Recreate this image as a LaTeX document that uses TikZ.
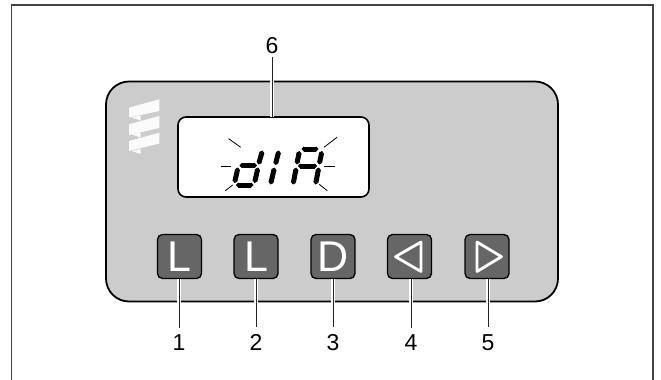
\documentclass[tikz,border=0pt]{standalone}
\usepackage{fontspec}
\setmainfont{Liberation Sans}
\usetikzlibrary{arrows.meta}
\definecolor{panelgray}{HTML}{CCCCCC}
\definecolor{btngray}{HTML}{666666}
\definecolor{framegray}{HTML}{444444}
\tikzset{
  x=1pt,y=-1pt,
  frameline/.style={draw=framegray,line width=1.5pt},
  panel/.style={draw=black,fill=panelgray,line width=1.8pt,rounded corners=23pt,minimum width=452pt,minimum height=220pt,outer sep=0pt,inner sep=0pt},
  lcd/.style={draw=black,fill=white,line width=1.6pt,rounded corners=8pt,minimum width=191pt,minimum height=80pt,outer sep=0pt,inner sep=0pt},
  btn/.style={draw=black,fill=btngray,line width=1.3pt,rounded corners=5pt,minimum width=44pt,minimum height=44pt,outer sep=0pt,inner sep=0pt,text=white,font=\fontsize{43}{43}\selectfont},
  tag/.style={font=\fontsize{23}{23}\selectfont,inner xsep=0pt,outer sep=0pt,text=black},
  btntag/.style={tag,inner ysep=7pt},
  toptag/.style={tag,inner ysep=3pt},
  leader/.style={draw=black!85,line width=1pt,preaction={draw=white,line width=3.4pt}},
  ray/.style={draw=black,line width=.8pt},
  arrowmark/.style={draw=white,line width=2.8pt,line join=round},
  logo/.style={fill=white!92!panelgray,draw=none},
  seg/.style={draw=black,line width=5pt,{Triangle[length=2.3pt,width=5pt]}-{Triangle[length=2.3pt,width=5pt]}}
}
\begin{document}
\begin{tikzpicture}
\useasboundingbox (0,0) rectangle (661,380);
\fill[white] (0,0) rectangle (661,380);
\coordinate (fbl) at (11.5,380);
\coordinate (ftl) at (11.5,5);
\coordinate (ftr) at (653,5);
\coordinate (fbr) at (653,380);
\draw[frameline] (fbl) -- (ftl) -- (ftr) -- (fbr);
\node[panel] (panel) at (332,191.5) {};
% logo
\fill[logo] (129,107.7) -- (159.3,99.3) -- (159.3,111) -- (129,117.5) -- cycle;
\fill[logo] (129,124.3) -- (159.3,116) -- (159.3,128) -- (129,135) -- cycle;
\fill[logo] (129,141) -- (159.3,132.7) -- (159.3,143.5) -- (129,151) -- cycle;
\fill[logo] (131.7,117.5) -- (140.7,115.5) -- (140.7,120.5) -- cycle;
\fill[logo] (131.7,134.5) -- (140.7,132.5) -- (140.7,137.5) -- cycle;
\fill[logo] (131.7,151) -- (140.7,149) -- (140.7,154) -- cycle;
% tags
\node[toptag] (t6) at (272,45.5) {6};
\node[btntag] (t1) at (179,342.5) {1};
\node[btntag] (t2) at (256,342.5) {2};
\node[btntag] (t3) at (333,342.5) {3};
\node[btntag] (t4) at (411,342.5) {4};
\node[btntag] (t5) at (488,342.5) {5};
% display
\node[lcd] (lcd) at (273.5,157) {};
\draw[leader] (t6.south) -- (t6.south |- lcd.north);
% buttons
\node[btn] (b1) at (179.5,256.5) {L};
\node[btn] (b2) at (256,256.5) {L};
\node[btn] (b3) at (333,256.5) {D};
\node[btn] (b4) at (409.5,256.5) {};
\node[btn] (b5) at (487,256.5) {};
\draw[leader] (t1.north |- b1.south) -- (t1.north);
\draw[leader] (t2.north |- b2.south) -- (t2.north);
\draw[leader] (t3.north |- b3.south) -- (t3.north);
\draw[leader] (t4.north |- b4.south) -- (t4.north);
\draw[leader] (t5.north |- b5.south) -- (t5.north);
\draw[arrowmark] (395.5,256.7) -- (421,242) -- (421,271.5) -- cycle;
\draw[arrowmark] (477,242) -- (477,271.5) -- (501.5,256.7) -- cycle;
% rays
\draw[ray] (228.7,138.7) -- (240.7,147.3);
\draw[ray] (220.7,166) -- (230.7,166);
\draw[ray] (225.3,190.7) -- (232.7,185);
\draw[ray] (324,147.3) -- (337,137.3);
\draw[ray] (324,166) -- (334.7,166);
\draw[ray] (319.3,184.3) -- (327.3,190.7);
% d
\draw[seg] (239.5,165.5) -- (257,165.5);
\draw[seg] (238,167.5) -- (234.5,183);
\draw[seg] (236,185) -- (253.5,185);
\draw[seg] (258,167.5) -- (254.5,183);
\draw[seg] (262.5,150.5) -- (258.5,164.5);
% I
\draw[seg] (279,150.5) -- (275.2,165);
\draw[seg] (274.5,167.5) -- (270.5,184.5);
% A
\draw[seg] (301.5,149) -- (318.5,149);
\draw[seg] (299.5,151) -- (296.7,164.5);
\draw[seg] (322,151) -- (319.2,164.5);
\draw[seg] (298,166) -- (317,166);
\draw[seg] (296.3,167.5) -- (293,184.5);
\draw[seg] (318.8,167.5) -- (315.5,184.5);
\end{tikzpicture}
\end{document}
